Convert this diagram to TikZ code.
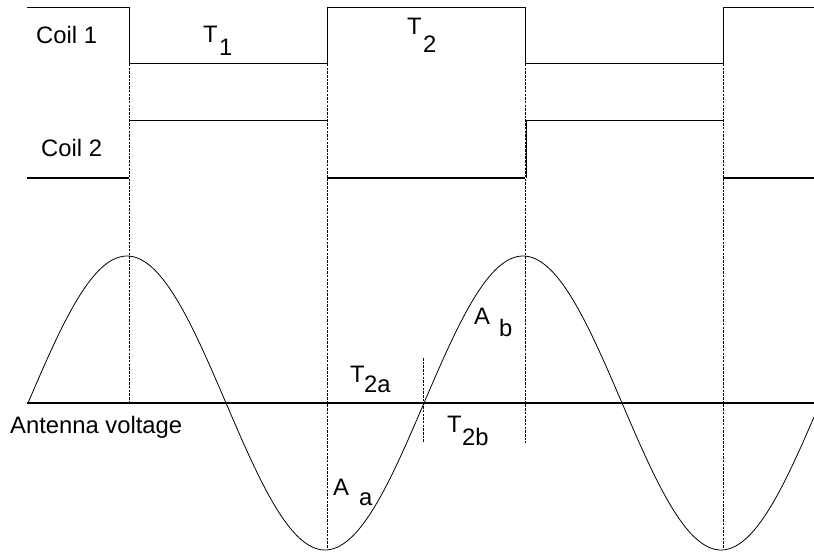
\documentclass[tikz,border=0pt]{standalone}
\usepackage{fontspec}
\setmainfont{Liberation Sans}
\begin{document}
\begin{tikzpicture}[x=1pt,y=-1pt,
  thinline/.style={line width=1pt},
  thickline/.style={line width=1.9pt},
  dotline/.style={line width=0.7pt,dash pattern=on 2.5pt off 1.2pt},
  lbl/.style={inner sep=0pt,anchor=base west,font=\fontsize{23.8}{28}\selectfont}]
\useasboundingbox (0,0) rectangle (814,553);
% dotted guide lines
\draw[dotline] (129,64) -- (129,403);
\draw[dotline] (327,64) -- (327,548);
\draw[dotline] (525,64) -- (525,443);
\draw[dotline] (723,64) -- (723,548);
\draw[dotline] (423,358) -- (423,443);
% coil 1
\draw[thinline] (27,8) -- (129,8) -- (129,64) -- (327,64) -- (327,8) -- (525,8) -- (525,64) -- (723,64) -- (723,8) -- (814,8);
% coil 2
\draw[thickline] (27,178) -- (129,178);
\draw[thinline] (129,121) -- (327,121);
\draw[thickline] (327,178) -- (525,178);
\draw[thinline] (526,178) -- (526,121) -- (723,121);
\draw[thickline] (723,178) -- (814,178);
% axis
\draw[thickline] (27,403) -- (814,403);
% sine
\draw[line width=0.8pt] plot[domain=28:814,samples=240,smooth] (\x,{403-147*sin((\x-28)/396*360)});
% labels
\node[lbl] (c1) at (36,44) {Coil 1};
\node[lbl] (c2) at (41,157) {Coil 2};
\node[lbl] (t1) at (203,43) {T};
\node[lbl] (t1s) at (219,56) {1};
\node[lbl] (t2) at (407,35) {T};
\node[lbl] (t2s) at (423,53) {2};
\node[lbl] (t2a) at (350,382) {T};
\node[lbl] (t2as) at (364,392) {2a};
\node[lbl] (t2b) at (447,432) {T};
\node[lbl] (t2bs) at (462,445) {2b};
\node[lbl] (ab) at (474,325) {A};
\node[lbl] (abs) at (499,337) {b};
\node[lbl] (aa) at (333,495) {A};
\node[lbl] (aas) at (359,505) {a};
\node[lbl] (av) at (10,433) {Antenna voltage};
\end{tikzpicture}
\end{document}
